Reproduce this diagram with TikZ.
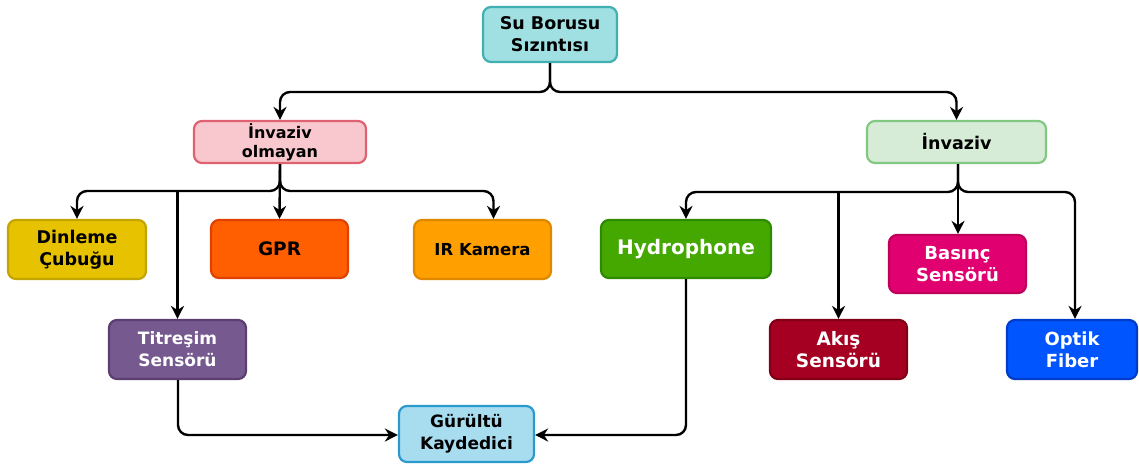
\documentclass[tikz,border=0pt]{standalone}
\usepackage{fontspec}
\setmainfont{DejaVu Sans}
\usetikzlibrary{arrows.meta}
\definecolor{cTopF}{RGB}{160,224,226}
\definecolor{cTopD}{RGB}{64,176,178}
\definecolor{cNonF}{RGB}{249,200,206}
\definecolor{cNonD}{RGB}{222,98,112}
\definecolor{cInvF}{RGB}{214,236,214}
\definecolor{cInvD}{RGB}{130,200,130}
\definecolor{cDinF}{RGB}{230,194,0}
\definecolor{cDinD}{RGB}{196,164,0}
\definecolor{cGprF}{RGB}{255,95,0}
\definecolor{cGprD}{RGB}{226,64,0}
\definecolor{cIrF}{RGB}{255,160,0}
\definecolor{cIrD}{RGB}{222,136,0}
\definecolor{cHydF}{RGB}{68,168,0}
\definecolor{cHydD}{RGB}{46,138,0}
\definecolor{cBasF}{RGB}{224,0,111}
\definecolor{cBasD}{RGB}{190,0,90}
\definecolor{cAkiF}{RGB}{165,0,33}
\definecolor{cAkiD}{RGB}{130,0,22}
\definecolor{cOptF}{RGB}{0,85,255}
\definecolor{cOptD}{RGB}{0,60,200}
\definecolor{cTitF}{RGB}{118,89,143}
\definecolor{cTitD}{RGB}{90,63,112}
\definecolor{cGurF}{RGB}{168,221,240}
\definecolor{cGurD}{RGB}{42,154,204}
\tikzset{
  box/.style={draw, line width=2.2pt, rounded corners=8pt, align=center,
    inner sep=0pt, font=\fontsize{16.5}{20}\selectfont\bfseries},
  wtext/.style={text=white},
  conn/.style={draw=black, line width=2.4pt, rounded corners=10pt,
    -{Stealth[length=13pt,width=13pt]}}
}
\begin{document}
\begin{tikzpicture}[x=1pt,y=-1pt]
\useasboundingbox (0,0) rectangle (1139,463);
% nodes
\node[box, fill=cTopF, draw=cTopD, minimum width=134pt, minimum height=55pt,
  font=\fontsize{17.5}{22}\selectfont\bfseries] (top) at (550,34.5) {Su Borusu\\Sızıntısı};
\node[box, fill=cNonF, draw=cNonD, minimum width=172pt, minimum height=42pt,
  font=\fontsize{16}{19}\selectfont\bfseries] (non) at (280,142) {İnvaziv\\olmayan};
\node[box, fill=cInvF, draw=cInvD, minimum width=179pt, minimum height=42pt,
  font=\fontsize{17.5}{20}\selectfont\bfseries] (inv) at (956.5,142) {İnvaziv};
\node[box, fill=cDinF, draw=cDinD, minimum width=138pt, minimum height=59pt,
  font=\fontsize{17.5}{22}\selectfont\bfseries] (din) at (77,249.5) {Dinleme\\Çubuğu};
\node[box, fill=cGprF, draw=cGprD, minimum width=137pt, minimum height=58pt,
  font=\fontsize{18.5}{21}\selectfont\bfseries] (gpr) at (279.5,249) {GPR};
\node[box, fill=cIrF, draw=cIrD, minimum width=137pt, minimum height=59pt] (ir) at (482.5,249.5) {IR Kamera};
\node[box, wtext, fill=cHydF, draw=cHydD, minimum width=170pt, minimum height=58pt,
  font=\fontsize{20}{23}\selectfont\bfseries] (hyd) at (686,249) {Hydrophone};
\node[box, wtext, fill=cBasF, draw=cBasD, minimum width=137pt, minimum height=58pt,
  font=\fontsize{18}{22}\selectfont\bfseries] (bas) at (957.5,264) {Basınç\\Sensörü};
\node[box, wtext, fill=cTitF, draw=cTitD, minimum width=137pt, minimum height=59pt,
  font=\fontsize{17}{22}\selectfont\bfseries] (tit) at (177.5,349.5) {Titreşim\\Sensörü};
\node[box, wtext, fill=cAkiF, draw=cAkiD, minimum width=137pt, minimum height=59pt,
  font=\fontsize{18.5}{22}\selectfont\bfseries] (aki) at (838.5,349.5) {Akış\\Sensörü};
\node[box, wtext, fill=cOptF, draw=cOptD, minimum width=130pt, minimum height=59pt,
  font=\fontsize{18}{22}\selectfont\bfseries] (opt) at (1072,349.5) {Optik\\Fiber};
\node[box, fill=cGurF, draw=cGurD, minimum width=135pt, minimum height=56pt,
  font=\fontsize{17}{22}\selectfont\bfseries] (gur) at (466.5,434) {Gürültü\\Kaydedici};
% helper coordinates
\coordinate (b0) at (550,92);
\coordinate (b1) at (280,191);
\coordinate (b2) at (958,192);
\coordinate (low) at (0,435);
% top fork
\draw[conn] (top.south) -- (b0) -| (non.north);
\draw[conn] (top.south) -- (b0) -| (inv.north);
% left fork
\draw[conn] (non.south) -- (b1) -| (din.north);
\draw[conn] (non.south) -- (b1) -| ([xshift=11pt]ir.north);
\draw[conn] (non.south) -- (gpr.north);
\draw[conn] (b1 -| tit.north) -- (tit.north);
% right fork
\draw[conn] ([xshift=1.5pt]inv.south) -- (b2) -| (hyd.north);
\draw[conn] ([xshift=1.5pt]inv.south) -- (b2) -| ([xshift=3pt]opt.north);
\draw[conn] ([xshift=1.5pt]inv.south) -- ([xshift=0.5pt]bas.north);
\draw[conn] (b2 -| aki.north) -- (aki.north);
% to recorder
\draw[conn] ([xshift=0.5pt]tit.south) |- (gur.west |- low);
\draw[conn] (hyd.south) |- (gur.east |- low);
\end{tikzpicture}
\end{document}
